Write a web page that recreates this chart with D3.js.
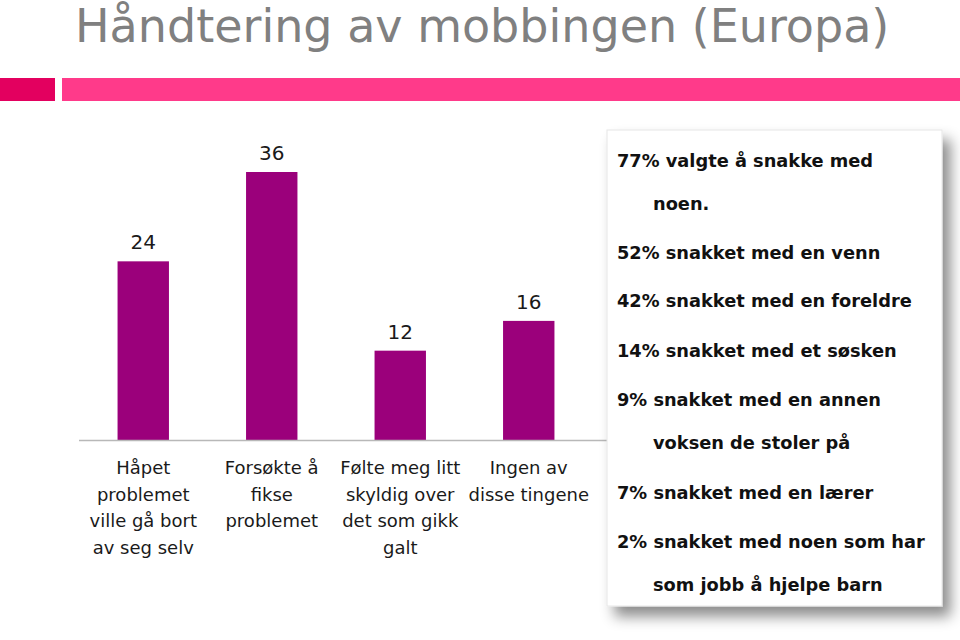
<!DOCTYPE html>
<html><head><meta charset="utf-8">
<script src="https://cdn.jsdelivr.net/npm/d3@7"></script>
<style>body{margin:0;background:#fff}svg{display:block}</style>
</head><body>
<script>
const title = "Håndtering av mobbingen (Europa)";
const categories = [
  ["Håpet","problemet","ville gå bort","av seg selv"],
  ["Forsøkte å","fikse","problemet"],
  ["Følte meg litt","skyldig over","det som gikk","galt"],
  ["Ingen av","disse tingene"]
];
const values = [24, 36, 12, 16];
const notes = [
  {text:"77% valgte å snakke med", indent:false},
  {text:"noen.", indent:true},
  {text:"52% snakket med en venn", indent:false},
  {text:"42% snakket med en foreldre", indent:false},
  {text:"14% snakket med et søsken", indent:false},
  {text:"9% snakket med en annen", indent:false},
  {text:"voksen de stoler på", indent:true},
  {text:"7% snakket med en lærer", indent:false},
  {text:"2% snakket med noen som har", indent:false},
  {text:"som jobb å hjelpe barn", indent:true}
];

const W=960,H=640;
const svg=d3.select("body").append("svg").attr("width",W).attr("height",H);
const defs=svg.append("defs");
const f=defs.append("filter").attr("id","sh").attr("x","-10%").attr("y","-10%").attr("width","130%").attr("height","130%");
f.append("feDropShadow").attr("dx",8).attr("dy",10).attr("stdDeviation",7).attr("flood-color","#000").attr("flood-opacity",0.45);

// title
svg.append("text").attr("x",75).attr("y",42).attr("font-family","DejaVu Sans, sans-serif")
  .attr("font-size",46).attr("fill","#808080").text(title);
// decorative bars
svg.append("rect").attr("x",0).attr("y",78).attr("width",55).attr("height",23).attr("fill","#e3005f");
svg.append("rect").attr("x",62).attr("y",78).attr("width",W-62).attr("height",23).attr("fill","#ff3a8a");

// chart
const x=d3.scaleBand().domain(d3.range(values.length)).range([79,593]).paddingInner(0.6).paddingOuter(0.3);
const y=d3.scaleLinear().domain([0,36]).range([440,172]);
const g=svg.append("g");
g.selectAll("rect.bar").data(values).join("rect").attr("class","bar")
  .attr("x",(d,i)=>x(i)).attr("width",x.bandwidth())
  .attr("y",d=>y(d)).attr("height",d=>y(0)-y(d)).attr("fill","#9b007b");
g.selectAll("text.val").data(values).join("text").attr("class","val")
  .attr("x",(d,i)=>x(i)+x.bandwidth()/2).attr("y",d=>y(d)-12)
  .attr("text-anchor","middle").attr("font-family","DejaVu Sans, sans-serif").attr("font-size",20)
  .attr("fill","#1a1a1a").text(d=>d);
g.append("line").attr("x1",79).attr("x2",615).attr("y1",440.5).attr("y2",440.5).attr("stroke","#b8b8b8").attr("stroke-width",1.5);
categories.forEach((lines,i)=>{
  const t=g.append("text").attr("text-anchor","middle").attr("font-family","DejaVu Sans, sans-serif")
    .attr("font-size",18).attr("fill","#1a1a1a");
  lines.forEach((l,j)=>t.append("tspan").attr("x",x(i)+x.bandwidth()/2).attr("y",474+j*26.5).text(l));
});

// note box
svg.append("rect").attr("x",607).attr("y",130).attr("width",335).attr("height",476)
  .attr("fill","#fff").attr("stroke","#e6e6e6").attr("filter","url(#sh)");
const ys=[160,203,252,300,350,399,442,492,541,584];
svg.selectAll("text.note").data(notes).join("text").attr("class","note")
  .attr("x",d=>d.indent?653:617).attr("y",(d,i)=>ys[i]+6.5)
  .attr("font-family","DejaVu Sans, sans-serif").attr("font-weight","bold").attr("font-size",17.8)
  .attr("fill","#111").text(d=>d.text);
</script>
</body></html>
